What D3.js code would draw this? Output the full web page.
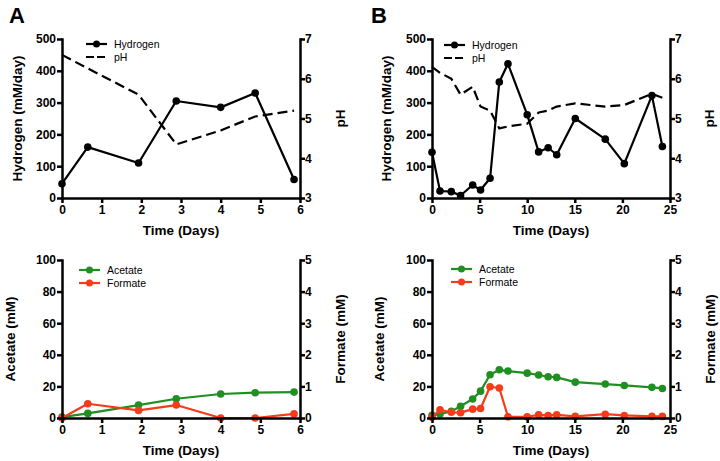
<!DOCTYPE html>
<html>
<head>
<meta charset="utf-8">
<script src="https://cdn.jsdelivr.net/npm/d3@7"></script>
<style>
  body { margin: 0; background: #fff; }
  svg { font-family: "Liberation Sans", Arial, sans-serif; }
  .axis path, .axis line { stroke: #000; stroke-width: 2.5px; }
  .axis text { font-size: 12px; font-weight: bold; fill: #000; }
  .title { font-size: 13.5px; font-weight: bold; }
  .legend { font-size: 10.5px; }
</style>
</head>
<body>
<svg id="chart" width="720" height="461"></svg>
<script>
// panel A
const daysA = [0, 0.65, 1.93, 2.88, 4.0, 4.87, 5.85];
const hydrogenA = [45, 160, 110, 305, 285, 330, 58];
const phA = [6.6, 6.26, 5.6, 4.35, 4.7, 5.05, 5.2];
const acetateA = [0.6, 2.9, 8.2, 12.2, 15.2, 16.0, 16.4];
const formateA = [0, 0.45, 0.24, 0.41, 0, 0, 0.13];

// panel B
const daysB = [0, 0.84, 2.03, 3.0, 4.27, 5.1, 6.1, 7.07, 7.98, 10.0, 11.2, 12.2, 13.1, 15.05, 18.2, 20.2, 23.1, 24.2];
const hydrogenB = [144, 22, 20, 8, 41, 25, 62, 365, 422, 262, 145, 158, 136, 250, 185, 108, 322, 162];
const phB = [6.3, 6.15, 6.0, 5.6, 5.8, 5.3, 5.2, 4.75, 4.8, 4.87, 5.15, 5.2, 5.3, 5.38, 5.3, 5.34, 5.62, 5.52];
const acetateB = [1.7, 2.5, 4.2, 7.4, 12, 17, 27.4, 30.5, 29.7, 28.4, 27.2, 26.1, 25.7, 22.7, 21.5, 20.6, 19.4, 18.7];
const formateB = [0.02, 0.26, 0.18, 0.17, 0.28, 0.3, 0.99, 0.95, 0.04, 0.04, 0.1, 0.08, 0.1, 0.05, 0.12, 0.08, 0.05, 0.05];

const hydrogenTicks = [0, 100, 200, 300, 400, 500];
const phTicks = [3, 4, 5, 6, 7];
const acetateTicks = [0, 20, 40, 60, 80, 100];
const formateTicks = [0, 1, 2, 3, 4, 5];
const dayTicksA = [0, 1, 2, 3, 4, 5, 6];
const dayTicksB = [0, 5, 10, 15, 20, 25];

const GREEN = '#1f8f22', RED = '#f43c1a';
const svg = d3.select('#chart');
const fmt = d3.format('d');

function drawPanel(o) {
  const g = svg.append('g');
  const x = d3.scaleLinear().domain(o.xDomain).range([o.left, o.right]);
  const yL = d3.scaleLinear().domain(o.yLDomain).range([o.bottom, o.top]);
  const yR = d3.scaleLinear().domain(o.yRDomain).range([o.bottom, o.top]);

  // series
  o.series.forEach(s => {
    const y = s.axis === 'left' ? yL : yR;
    const pts = o.days.map((d, i) => [x(d), y(s.values[i])]);
    g.append('path').attr('d', d3.line()(pts))
      .attr('fill', 'none').attr('stroke', s.color).attr('stroke-width', 2.2)
      .attr('stroke-dasharray', s.dash || null).attr('stroke-linejoin', 'round');
    if (s.markers) {
      g.selectAll(null).data(pts).enter().append('circle')
        .attr('cx', d => d[0]).attr('cy', d => d[1]).attr('r', 3.8).attr('fill', s.color);
    }
  });

  // axes
  g.append('g').attr('class', 'axis').attr('transform', `translate(${o.left},0)`)
    .call(d3.axisLeft(yL).tickValues(o.yLTicks).tickFormat(fmt).tickSize(5).tickSizeOuter(0).tickPadding(1));
  g.append('g').attr('class', 'axis').attr('transform', `translate(${o.right},0)`)
    .call(d3.axisRight(yR).tickValues(o.yRTicks).tickFormat(fmt).tickSize(5).tickSizeOuter(0).tickPadding(0));
  g.append('g').attr('class', 'axis').attr('transform', `translate(0,${o.bottom})`)
    .call(d3.axisBottom(x).tickValues(o.xTicks).tickFormat(fmt).tickSize(5).tickSizeOuter(0).tickPadding(2));
  g.selectAll('.axis .domain').attr('stroke-linecap', 'square');

  // titles
  const mid = (o.top + o.bottom) / 2;
  g.append('text').attr('class', 'title').attr('text-anchor', 'middle')
    .attr('transform', `translate(${o.leftTitleX},${mid}) rotate(-90)`).text(o.leftTitle);
  g.append('text').attr('class', 'title').attr('text-anchor', 'middle')
    .attr('transform', `translate(${o.rightTitleX},${mid}) rotate(-90)`).text(o.rightTitle);
  g.append('text').attr('class', 'title').attr('text-anchor', 'middle')
    .attr('x', (o.left + o.right) / 2).attr('y', o.bottom + 37).text('Time (Days)');

  // legend
  o.series.forEach((s, i) => {
    const ly = o.legend.y + i * 13;
    g.append('line').attr('x1', o.legend.x).attr('x2', o.legend.x + 21)
      .attr('y1', ly).attr('y2', ly).attr('stroke', s.color).attr('stroke-width', 2.2)
      .attr('stroke-dasharray', s.dash ? '8,3' : null);
    if (s.markers) {
      g.append('circle').attr('cx', o.legend.x + 10.5).attr('cy', ly).attr('r', 3.5).attr('fill', s.color);
    }
    g.append('text').attr('class', 'legend').attr('x', o.legend.x + 28).attr('y', ly + 4).text(s.name);
  });
}

const topRow = { top: 39, bottom: 198, yLDomain: [0, 500], yRDomain: [3, 7], yLTicks: hydrogenTicks, yRTicks: phTicks,
  leftTitle: 'Hydrogen (mM/day)', rightTitle: 'pH' };
const botRow = { top: 260, bottom: 418, yLDomain: [0, 100], yRDomain: [0, 5], yLTicks: acetateTicks, yRTicks: formateTicks,
  leftTitle: 'Acetate (mM)', rightTitle: 'Formate (mM)' };

drawPanel(Object.assign({}, topRow, { left: 62, right: 300, xDomain: [0, 6], xTicks: dayTicksA, days: daysA,
  leftTitleX: 22, rightTitleX: 345, legend: { x: 86, y: 44 },
  series: [{ name: 'Hydrogen', values: hydrogenA, color: '#000', axis: 'left', markers: true },
           { name: 'pH', values: phA, color: '#000', axis: 'right', dash: '10,5' }] }));
drawPanel(Object.assign({}, botRow, { left: 62, right: 300, xDomain: [0, 6], xTicks: dayTicksA, days: daysA,
  leftTitleX: 15, rightTitleX: 345, legend: { x: 79, y: 270 },
  series: [{ name: 'Acetate', values: acetateA, color: GREEN, axis: 'left', markers: true },
           { name: 'Formate', values: formateA, color: RED, axis: 'right', markers: true }] }));
drawPanel(Object.assign({}, topRow, { left: 432, right: 670, xDomain: [0, 25], xTicks: dayTicksB, days: daysB,
  leftTitleX: 391, rightTitleX: 714, legend: { x: 444, y: 45 },
  series: [{ name: 'Hydrogen', values: hydrogenB, color: '#000', axis: 'left', markers: true },
           { name: 'pH', values: phB, color: '#000', axis: 'right', dash: '10,5' }] }));
drawPanel(Object.assign({}, botRow, { left: 432, right: 670, xDomain: [0, 25], xTicks: dayTicksB, days: daysB,
  leftTitleX: 384, rightTitleX: 715, legend: { x: 451, y: 269 },
  series: [{ name: 'Acetate', values: acetateB, color: GREEN, axis: 'left', markers: true },
           { name: 'Formate', values: formateB, color: RED, axis: 'right', markers: true }] }));

// panel letters
svg.append('text').attr('x', 9).attr('y', 23).attr('font-size', 22).attr('font-weight', 'bold').text('A');
svg.append('text').attr('x', 371).attr('y', 23).attr('font-size', 22).attr('font-weight', 'bold').text('B');
</script>
</body>
</html>
